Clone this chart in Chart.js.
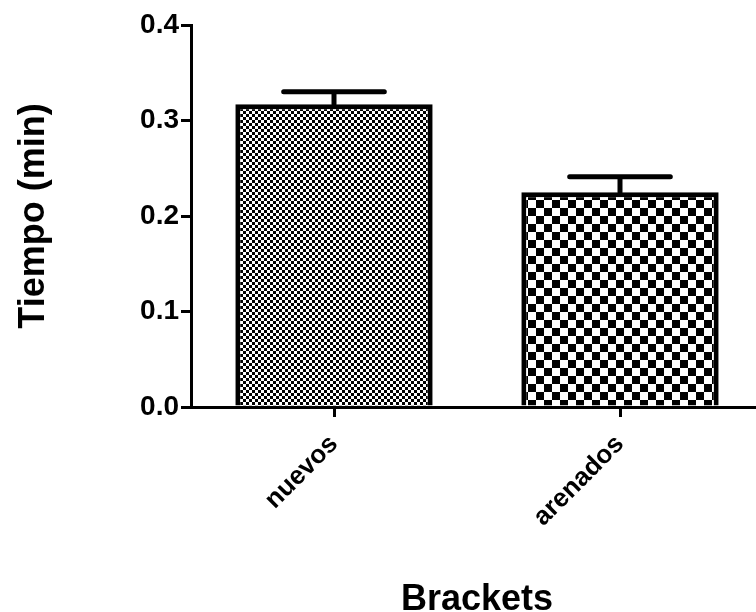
<!DOCTYPE html>
<html>
<head>
<meta charset="utf-8">
<script src="https://cdn.jsdelivr.net/npm/chart.js@4/dist/chart.umd.min.js"></script>
<style>
  html, body { margin: 0; padding: 0; background: #fff; overflow: hidden; }
  canvas { display: block; }
</style>
</head>
<body>
<canvas id="chart" width="763" height="612"></canvas>
<script>
// data
const categories = ['nuevos', 'arenados'];
const means = [0.317, 0.225];
const sems = [0.013, 0.016];
const yTicks = [0, 0.1, 0.2, 0.3, 0.4];

const FONT = '"Liberation Sans", Arial, sans-serif';

// checkerboard fill like the prism export
function checker(cell) {
    const c = document.createElement('canvas');
    c.width = c.height = cell * 2;
    const g = c.getContext('2d');
    g.fillStyle = '#fff';
    g.fillRect(0, 0, cell * 2, cell * 2);
    g.fillStyle = '#000';
    g.fillRect(0, 0, cell, cell);
    g.fillRect(cell, cell, cell, cell);
    return document.getElementById('chart').getContext('2d').createPattern(c, 'repeat');
}

// upper error bars only (mean + SEM)
const errorBars = {
    id: 'errorBars',
    afterDatasetsDraw(chart) {
        const ctx = chart.ctx;
        const y = chart.scales.y;
        const meta = chart.getDatasetMeta(0);
        ctx.save();
        ctx.strokeStyle = '#000';
        ctx.lineWidth = 5;
        ctx.lineCap = 'round';
        meta.data.forEach((bar, i) => {
            const top = y.getPixelForValue(means[i] + sems[i]);
            const half = bar.width * 0.255;
            ctx.beginPath();
            ctx.moveTo(bar.x, bar.y);
            ctx.lineTo(bar.x, top);
            ctx.moveTo(bar.x - half, top);
            ctx.lineTo(bar.x + half, top);
            ctx.stroke();
        });
        ctx.restore();
    }
};

new Chart(document.getElementById('chart'), {
    type: 'bar',
    data: {
        labels: categories,
        datasets: [{
            data: means,
            backgroundColor: [checker(3), checker(8)],
            borderColor: '#000',
            borderWidth: 5,
            borderSkipped: 'start',
            categoryPercentage: 1,
            barPercentage: 0.69
        }]
    },
    options: {
        responsive: false,
        animation: false,
        devicePixelRatio: 1,
        layout: { padding: { top: 25, right: 0, left: 0, bottom: 0 } },
        plugins: {
            legend: { display: false },
            tooltip: { enabled: false }
        },
        scales: {
            x: {
                afterFit: s => { s.height = 205; },
                border: { color: '#000', width: 3 },
                grid: { drawOnChartArea: false, offset: false, color: '#000', lineWidth: 3, tickLength: 10 },
                ticks: {
                    color: '#000',
                    font: { family: FONT, size: 26, weight: 'bold' },
                    minRotation: 45,
                    maxRotation: 45,
                    padding: 12
                },
                title: {
                    display: true,
                    text: 'Brackets',
                    color: '#000',
                    font: { family: FONT, size: 36, weight: 'bold', lineHeight: 1 },
                    padding: { top: 0, bottom: -6 }
                }
            },
            y: {
                min: 0,
                max: 0.4,
                afterFit: s => { s.width = 191; },
                afterBuildTicks: s => { s.ticks = yTicks.map(v => ({ value: v })); },
                border: { color: '#000', width: 3 },
                grid: { drawOnChartArea: false, color: '#000', lineWidth: 3, tickLength: 10 },
                ticks: {
                    color: '#000',
                    font: { family: FONT, size: 28, weight: 'bold' },
                    padding: 2,
                    callback: v => v.toFixed(1)
                },
                title: {
                    display: true,
                    text: 'Tiempo (min)',
                    color: '#000',
                    font: { family: FONT, size: 36, weight: 'bold' },
                    padding: { top: 12, bottom: 0 }
                }
            }
        }
    },
    plugins: [errorBars]
});
</script>
</body>
</html>
